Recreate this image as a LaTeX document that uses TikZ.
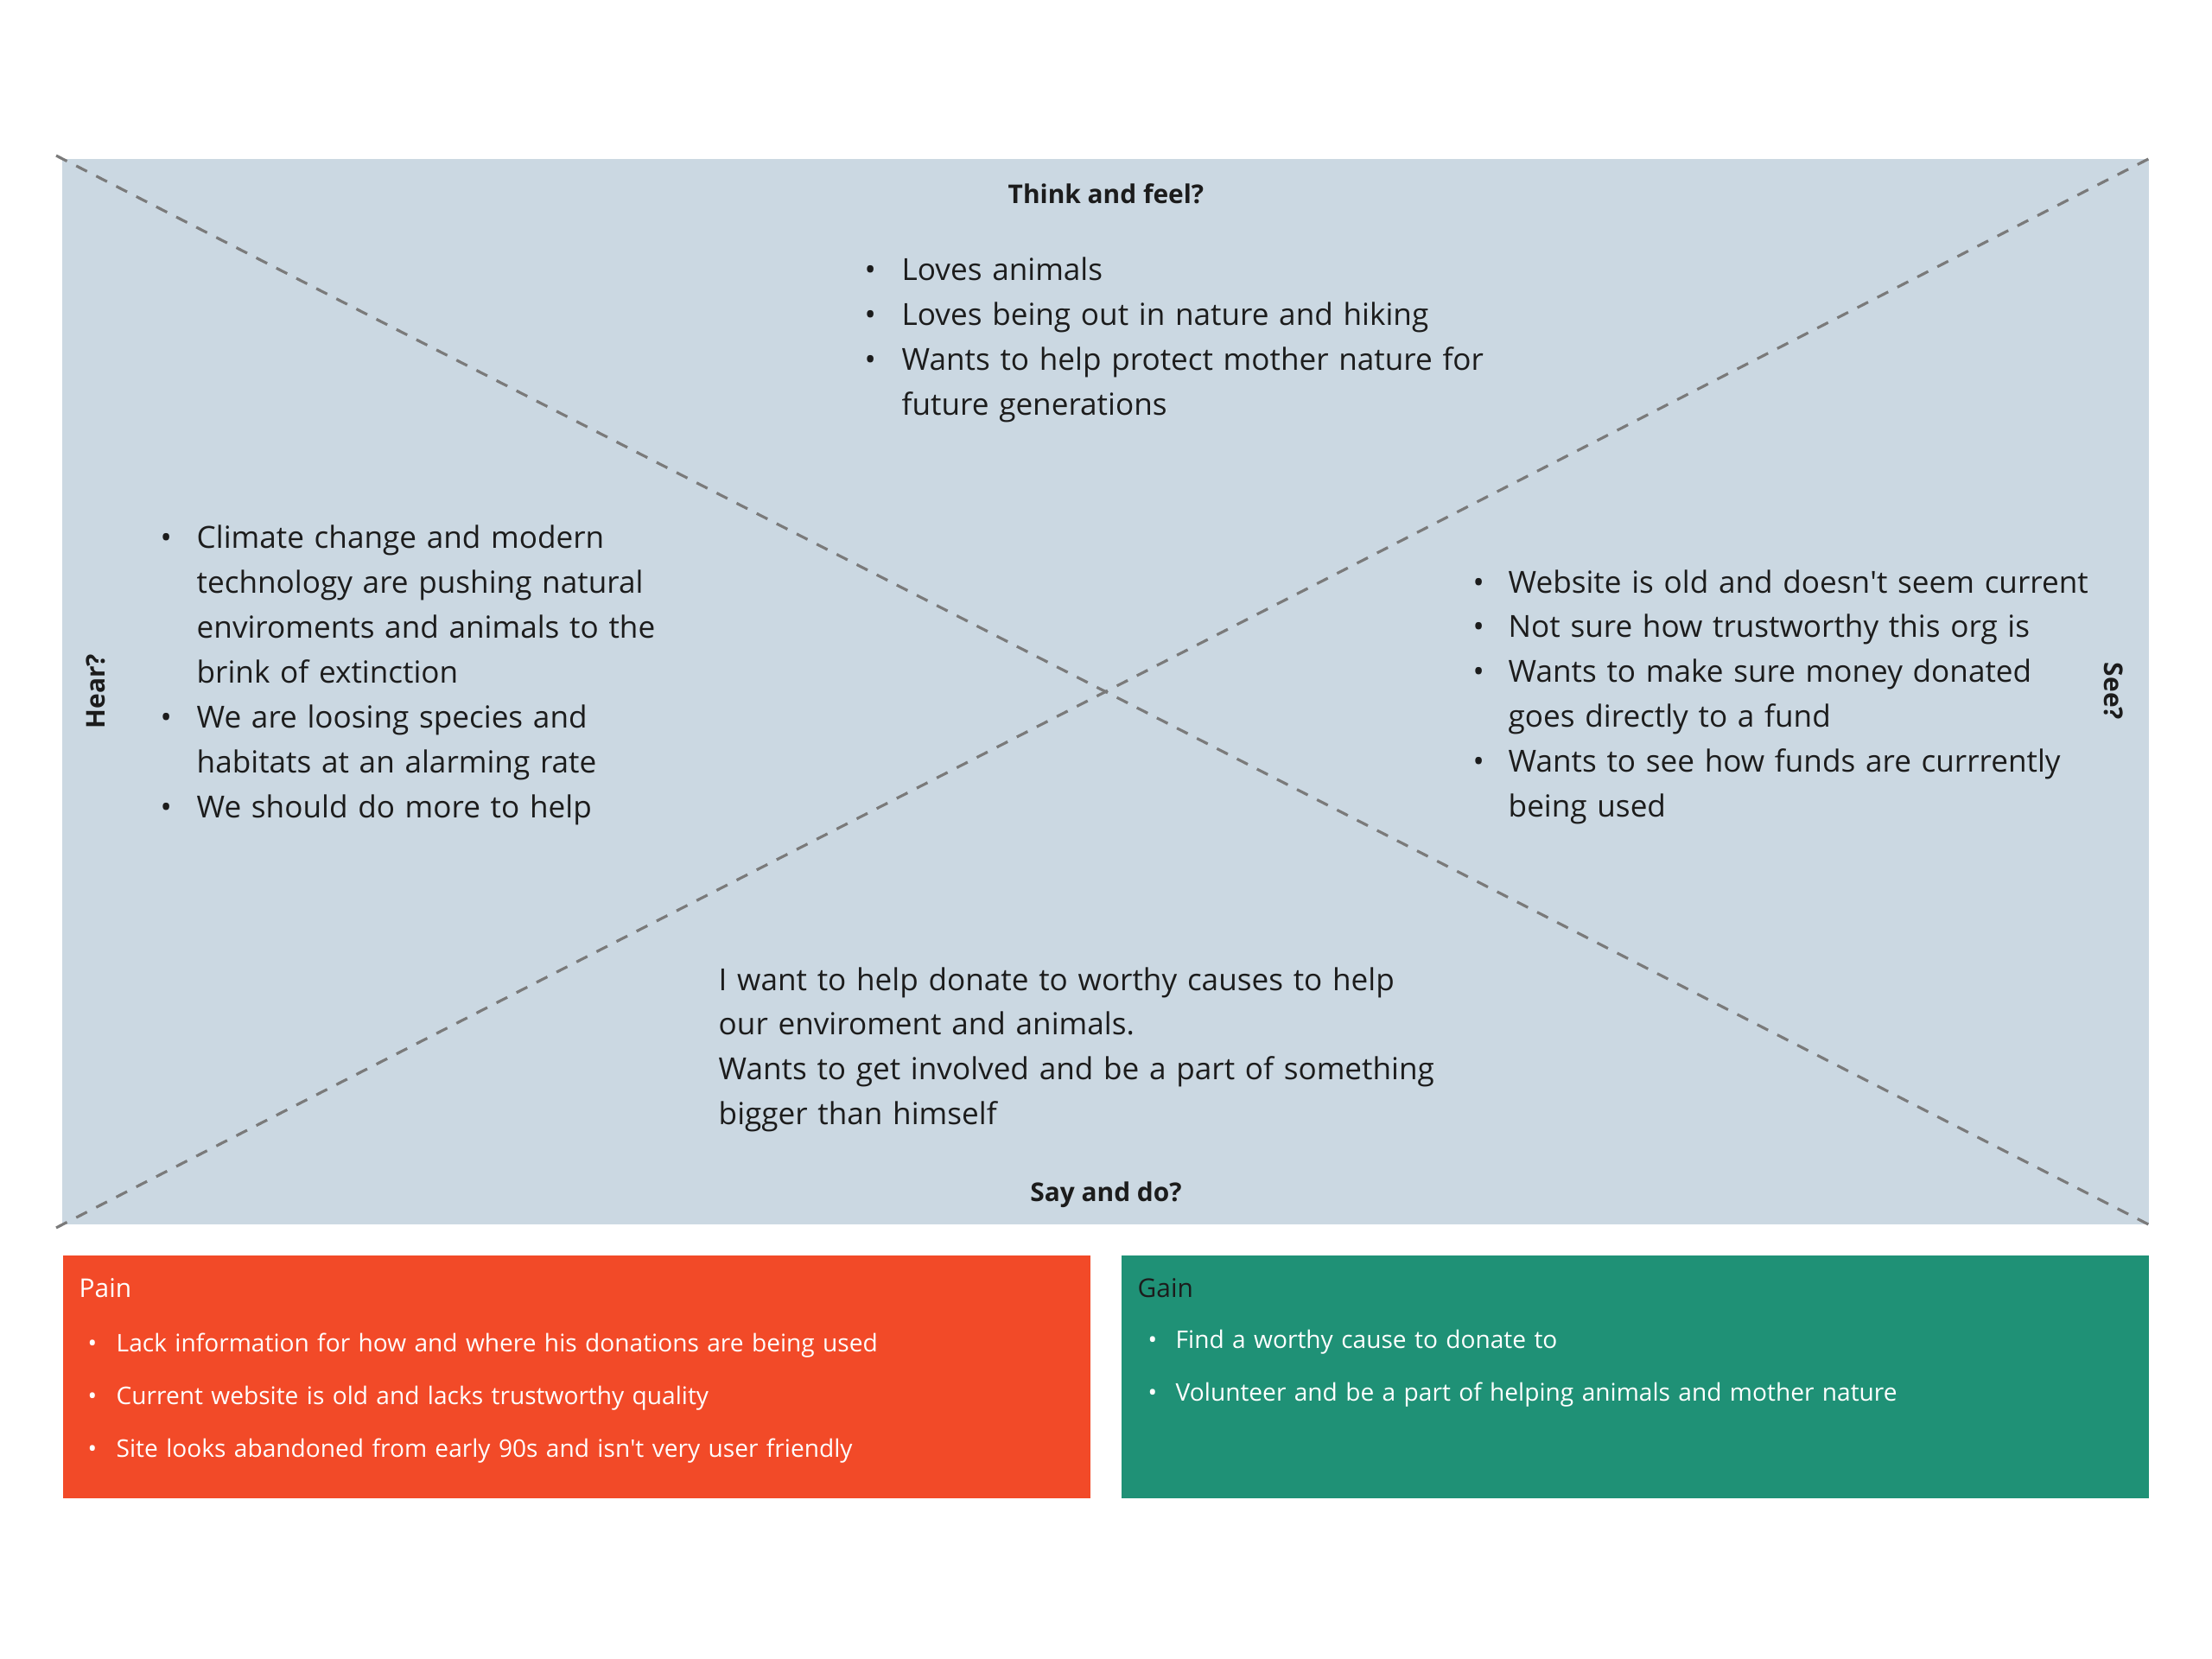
\documentclass[tikz,border=0pt]{standalone}
\usepackage{fontspec}
\setmainfont{Open Sans}
\usetikzlibrary{positioning}
\definecolor{mapblue}{HTML}{CBD8E2}
\definecolor{painred}{HTML}{F24A28}
\definecolor{gaingreen}{HTML}{1F9176}
\definecolor{dashgray}{HTML}{7A7A7A}
\definecolor{inkdark}{HTML}{1C1C1C}
\newcommand{\mapitem}[2]{\noindent\hangindent=#1\hangafter=1\makebox[#1][l]{\textbullet}#2\par}

\begin{document}
\begin{tikzpicture}[
  every node/.style={inner sep=0pt, text=inkdark},
  canvas/.style={fill=mapblue, minimum width=24.15cm, minimum height=12.33cm},
  diag/.style={draw=dashgray, line width=0.9pt, dash pattern=on 4pt off 3.4pt,
               shorten <=-2pt, shorten >=-2pt},
  heading/.style={font=\fontsize{8.5pt}{10pt}\selectfont\bfseries, anchor=base},
  side/.style={font=\fontsize{8.5pt}{10pt}\selectfont\bfseries},
  mapbody/.style={font=\fontsize{10pt}{14.75pt}\selectfont, anchor=base west,
                  align=left, text width=11cm},
  card/.style={minimum width=11.89cm, minimum height=2.81cm},
  cardtitle/.style={font=\fontsize{8.5pt}{10pt}\selectfont, anchor=base west},
  cardbody/.style={font=\fontsize{8pt}{17.4pt}\selectfont, anchor=base west,
                   align=left, text width=11cm, text=white},
]
\useasboundingbox (0,0) rectangle (25.6,-19.2);

%% ── Empathy map canvas ───────────────────────────────────────────────────
\node[canvas] (map) at (12.795, -8.005) {};
\draw[diag] (map.north west) -- (map.south east);
\draw[diag] (map.south west) -- (map.north east);

%% ── Quadrant headings ────────────────────────────────────────────────────
\node[heading] (think) at (12.80, -2.36) {Think and feel?};
\node[heading] (say)   at (12.80, -13.90) {Say and do?};
\node[side, rotate=90]  (hear) at (1.11, -8.00) {Hear?};
\node[side, rotate=-90] (see)  at (24.46, -8.00) {See?};

%% ── Quadrant contents ────────────────────────────────────────────────────
\node[mapbody] (thinklist) at (10.00, -3.25) {%
  \mapitem{0.43cm}{Loves animals}%
  \mapitem{0.43cm}{Loves being out in nature and hiking}%
  \mapitem{0.43cm}{Wants to help protect mother nature for\newline future generations}};

\node[mapbody] (hearlist) at (1.85, -6.35) {%
  \mapitem{0.42cm}{Climate change and modern\newline technology are pushing natural\newline
    enviroments and animals to the\newline brink of extinction}%
  \mapitem{0.42cm}{We are loosing species and\newline habitats at an alarming rate}%
  \mapitem{0.42cm}{We should do more to help}};

\node[mapbody] (seelist) at (17.04, -6.86) {%
  \mapitem{0.41cm}{Website is old and doesn\textquotesingle t seem current}%
  \mapitem{0.41cm}{Not sure how trustworthy this org is}%
  \mapitem{0.41cm}{Wants to make sure money donated\newline goes directly to a fund}%
  \mapitem{0.41cm}{Wants to see how funds are currrently\newline being used}};

\node[mapbody] (saytext) at (8.31, -11.46) {%
  I want to help donate to worthy causes to help\\
  our enviroment and animals.\\
  Wants to get involved and be a part of something\\
  bigger than himself};

%% ── Pain and gain cards ──────────────────────────────────────────────────
\node[card, fill=painred]   (pain) at (6.675, -15.935) {};
\node[card, fill=gaingreen] (gain) at (18.925, -15.93) {};

\node[cardtitle, text=white] (paintitle) at (0.91, -15.01) {Pain};
\node[cardbody] (painlist) at (1.01, -15.64) {%
  \mapitem{0.33cm}{Lack information for how and where his donations are being used}%
  \mapitem{0.33cm}{Current website is old and lacks trustworthy quality}%
  \mapitem{0.33cm}{Site looks abandoned from early 90s and isn\textquotesingle t very user friendly}};

\node[cardtitle] (gaintitle) at (13.16, -15.01) {Gain};
\node[cardbody] (gainlist) at (13.28, -15.60) {%
  \mapitem{0.32cm}{Find a worthy cause to donate to}%
  \mapitem{0.32cm}{Volunteer and be a part of helping animals and mother nature}};

\end{tikzpicture}
\end{document}
